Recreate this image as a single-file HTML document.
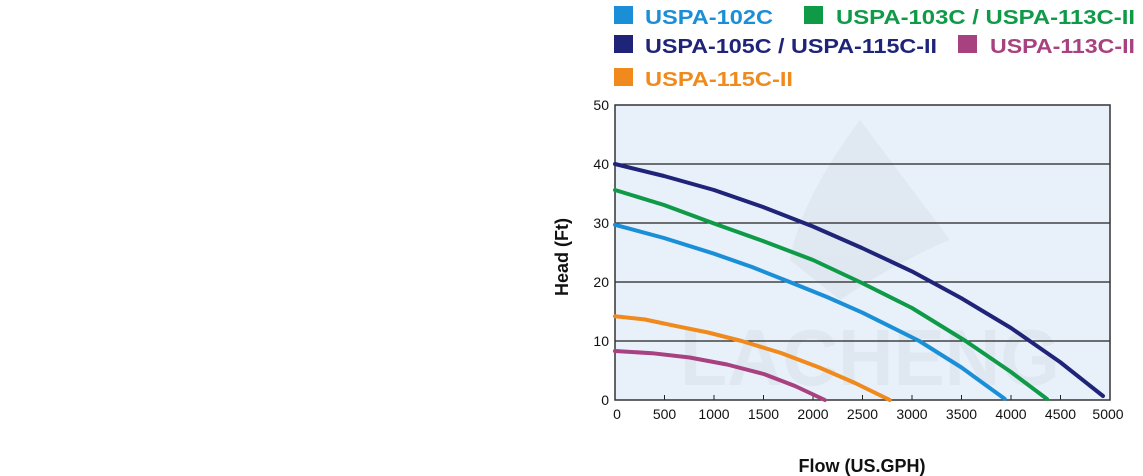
<!DOCTYPE html>
<html><head><meta charset="utf-8"><style>
html,body{margin:0;padding:0;background:#fff;}
svg{display:block;font-family:"Liberation Sans",Arial,sans-serif;}
</style></head><body>
<svg width="1143" height="476" viewBox="0 0 1143 476">
<g font-weight="bold" font-size="20">
<rect x="614" y="6" width="19" height="18" fill="#1a8fd8"/><text x="645" y="24" fill="#1a8fd8" textLength="128" lengthAdjust="spacingAndGlyphs">USPA-102C</text>
<rect x="804" y="6" width="19" height="18" fill="#0f9a48"/><text x="836" y="24" fill="#0f9a48" textLength="299" lengthAdjust="spacingAndGlyphs">USPA-103C / USPA-113C-II</text>
<rect x="614" y="35" width="19" height="18" fill="#1f2479"/><text x="645" y="53" fill="#1f2479" textLength="292" lengthAdjust="spacingAndGlyphs">USPA-105C / USPA-115C-II</text>
<rect x="958" y="35" width="19" height="18" fill="#a8417f"/><text x="990" y="53" fill="#a8417f" textLength="145" lengthAdjust="spacingAndGlyphs">USPA-113C-II</text>
<rect x="614" y="68" width="19" height="18" fill="#f08a1c"/><text x="645" y="86" fill="#f08a1c" textLength="148" lengthAdjust="spacingAndGlyphs">USPA-115C-II</text>
</g>
<rect x="615" y="105" width="495" height="295" fill="#e8f0fa"/>
<g opacity="0.45">
<path d="M860 120 Q800 200 790 260 L840 300 Q900 260 950 240 Z" fill="#d6dde6"/>
<text x="680" y="385" font-size="80" font-weight="bold" fill="#d6dde6" textLength="380" lengthAdjust="spacingAndGlyphs">LACHENG</text>
</g>
<g stroke="#222" stroke-width="1.2">
<line x1="615" y1="164" x2="1110" y2="164"/>
<line x1="615" y1="223" x2="1110" y2="223"/>
<line x1="615" y1="282" x2="1110" y2="282"/>
<line x1="615" y1="341" x2="1110" y2="341"/>
</g>
<g stroke="#222" stroke-width="1">
<line x1="664.5" y1="400" x2="664.5" y2="395"/><line x1="714" y1="400" x2="714" y2="395"/><line x1="763.5" y1="400" x2="763.5" y2="395"/><line x1="813" y1="400" x2="813" y2="395"/><line x1="862.5" y1="400" x2="862.5" y2="395"/><line x1="912" y1="400" x2="912" y2="395"/><line x1="961.5" y1="400" x2="961.5" y2="395"/><line x1="1011" y1="400" x2="1011" y2="395"/><line x1="1060.5" y1="400" x2="1060.5" y2="395"/>
</g>
<rect x="615" y="105" width="495" height="295" fill="none" stroke="#333" stroke-width="1.5"/>
<g fill="none" stroke-width="4" stroke-linecap="round" stroke-linejoin="round">
<polyline stroke="#1f2479" points="615,164 664,176 714,190 763,207 813,226.5 862,248 912,271.4 961,298 1011,328 1060,362 1103,396"/>
<polyline stroke="#0f9a48" points="615,190 664,205 714,223.5 763,241 813,260 862,283 912,308 965.6,341 1011,372 1047,399"/>
<polyline stroke="#1a8fd8" points="615,224.8 664,238 714,253.7 752,267 789.7,282 827,297 862.5,312.7 919.3,341 961.5,367.5 1004.6,398.8"/>
<polyline stroke="#f08a1c" points="615,316.2 645,319.5 674.4,325.7 708,332.5 741.6,341 781,353 819.3,367.5 855,383 889.7,400"/>
<polyline stroke="#a8417f" points="615,351 652,353.2 689.7,357.5 727,364.5 763.8,374 795,386 824.9,400"/>
</g>
<g font-size="14" fill="#111" text-anchor="end">
<text x="609" y="110">50</text><text x="609" y="169">40</text><text x="609" y="228">30</text><text x="609" y="287">20</text><text x="609" y="346">10</text><text x="609" y="405">0</text>
</g>
<g font-size="14" fill="#111" text-anchor="middle">
<text x="617" y="419">0</text><text x="664.5" y="419">500</text><text x="714" y="419">1000</text><text x="763.5" y="419">1500</text><text x="813" y="419">2000</text><text x="862.5" y="419">2500</text><text x="912" y="419">3000</text><text x="961.5" y="419">3500</text><text x="1011" y="419">4000</text><text x="1060.5" y="419">4500</text><text x="1108" y="419">5000</text>
</g>
<text x="862" y="472" font-size="18" font-weight="bold" text-anchor="middle" fill="#111">Flow (US.GPH)</text>
<text transform="translate(568,257) rotate(-90)" font-size="18" font-weight="bold" text-anchor="middle" fill="#111">Head (Ft)</text>
</svg>
</body></html>
